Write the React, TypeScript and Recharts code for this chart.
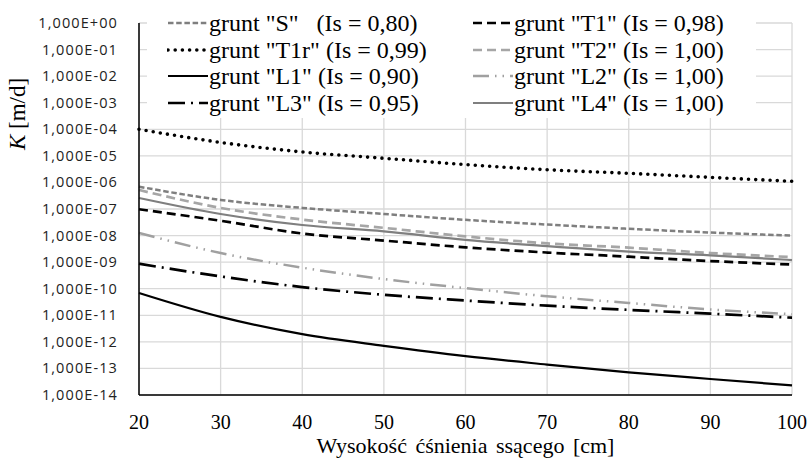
import { LineChart, Line, XAxis, YAxis, CartesianGrid, Legend } from 'recharts';

// wysokość ciśnienia ssącego [cm]
const xValues = [20, 30, 40, 50, 60, 70, 80, 90, 100];
const xTicks = [20, 30, 40, 50, 60, 70, 80, 90, 100];
const yTicks = [1, 1e-1, 1e-2, 1e-3, 1e-4, 1e-5, 1e-6, 1e-7, 1e-8, 1e-9, 1e-10, 1e-11, 1e-12, 1e-13, 1e-14];

// K [m/d]
const gruntS = [6.9e-7, 2.2e-7, 1.1e-7, 6.5e-8, 3.9e-8, 2.6e-8, 1.8e-8, 1.3e-8, 1.0e-8];
const gruntT1 = [9.8e-8, 3.6e-8, 1.2e-8, 6.5e-9, 3.6e-9, 2.3e-9, 1.6e-9, 1.1e-9, 8.1e-10];
const gruntT1r = [1.0e-4, 3.2e-5, 1.4e-5, 8.1e-6, 4.7e-6, 3.0e-6, 2.2e-6, 1.55e-6, 1.1e-6];
const gruntT2 = [5.2e-7, 1.1e-7, 4.0e-8, 1.95e-8, 9.3e-9, 5.1e-9, 3.5e-9, 2.2e-9, 1.55e-9];
const gruntL1 = [6.9e-11, 8.7e-12, 1.95e-12, 7.1e-13, 2.9e-13, 1.4e-13, 7.1e-14, 4.0e-14, 2.3e-14];
const gruntL2 = [1.26e-8, 2.2e-9, 6.2e-10, 2.3e-10, 1.05e-10, 5.2e-11, 2.9e-11, 1.66e-11, 1.1e-11];
const gruntL3 = [8.7e-10, 2.9e-10, 1.15e-10, 5.9e-11, 3.6e-11, 2.3e-11, 1.6e-11, 1.15e-11, 8.1e-12];
const gruntL4 = [2.6e-7, 6.5e-8, 2.5e-8, 1.45e-8, 6.9e-9, 4.0e-9, 2.5e-9, 1.8e-9, 1.2e-9];

const seriesNames = [
  'grunt "S"   (Is = 0,80)',
  'grunt "T1" (Is = 0,98)',
  'grunt "T1r" (Is = 0,99)',
  'grunt "T2" (Is = 1,00)',
  'grunt "L1" (Is = 0,90)',
  'grunt "L2" (Is = 1,00)',
  'grunt "L3" (Is = 0,95)',
  'grunt "L4" (Is = 1,00)',
];

const data = xValues.map((x, i) => ({
  x,
  S: gruntS[i],
  T1: gruntT1[i],
  T1r: gruntT1r[i],
  T2: gruntT2[i],
  L1: gruntL1[i],
  L2: gruntL2[i],
  L3: gruntL3[i],
  L4: gruntL4[i],
}));

const styles = [
  { key: 'S', stroke: '#7f7f7f', width: 2.5, dash: '5.5 2.7', cap: 'butt' },
  { key: 'T1', stroke: '#000', width: 2.7, dash: '9 5', cap: 'butt' },
  { key: 'T1r', stroke: '#000', width: 3.6, dash: '0 7.2', cap: 'round' },
  { key: 'T2', stroke: '#a6a6a6', width: 2.7, dash: '9 5', cap: 'butt' },
  { key: 'L1', stroke: '#000', width: 2.2, dash: undefined, cap: 'butt' },
  { key: 'L2', stroke: '#a0a0a0', width: 2.5, dash: '16 6 1.5 6 1.5 6', cap: 'butt' },
  { key: 'L3', stroke: '#000', width: 2.7, dash: '17 6 2 6', cap: 'butt' },
  { key: 'L4', stroke: '#7f7f7f', width: 2.2, dash: undefined, cap: 'butt' },
];

const serif = '"Liberation Serif", "Times New Roman", serif';
const sans = '"Open Sans", sans-serif';

function fmtK(v: number) {
  const e = Math.round(Math.log10(v));
  return '1,000E' + (e < 0 ? '-' : '+') + String(Math.abs(e)).padStart(2, '0');
}

function LegendBox() {
  return (
    <div
      style={{
        position: 'relative',
        width: 609,
        height: 118,
        background: '#fff',
        fontFamily: serif,
        fontSize: 24,
        color: '#000',
      }}
    >
      {styles.map((s, i) => {
        const col = i % 2;
        const row = Math.floor(i / 2);
        return (
          <div
            key={s.key}
            style={{
              position: 'absolute',
              left: col ? 325 : 20,
              top: 23 + row * 26.67 - 13,
              height: 26,
              display: 'flex',
              alignItems: 'center',
              whiteSpace: 'pre',
            }}
          >
            <svg width={41} height={10} style={{ display: 'block' }}>
              <line
                x1={1}
                y1={5}
                x2={41}
                y2={5}
                stroke={s.stroke}
                strokeWidth={s.width}
                strokeDasharray={s.dash}
                strokeLinecap={s.cap as any}
              />
            </svg>
            <span style={{ marginLeft: 1, lineHeight: '26px' }}>{seriesNames[i]}</span>
          </div>
        );
      })}
    </div>
  );
}

function XTick({ x, y, payload }: any) {
  return (
    <text x={x} y={y + 14} textAnchor="middle" style={{ fontFamily: serif, fontSize: 20, fill: '#000' }}>
      {payload.value}
    </text>
  );
}

function YTick({ x, y, payload }: any) {
  return (
    <text
      x={x}
      y={y + 5}
      textAnchor="end"
      style={{ fontFamily: sans, fontSize: 14.5, fill: '#222', letterSpacing: 1.1 }}
    >
      {fmtK(payload.value)}
    </text>
  );
}

function YTitle() {
  return (
    <text
      x={25}
      y={114}
      transform="rotate(-90 25 114)"
      textAnchor="middle"
      style={{ fontFamily: serif, fontSize: 23, fill: '#000' }}
    >
      <tspan style={{ fontStyle: 'italic' }}>K</tspan> [m/d]
    </text>
  );
}

function XTitle({ viewBox }: any) {
  const cx = viewBox ? viewBox.x + viewBox.width / 2 : 465;
  return (
    <text x={cx} y={453} textAnchor="middle" style={{ fontFamily: serif, fontSize: 22, fill: '#000', wordSpacing: 3 }}>
      Wysokość ćśnienia ssącego [cm]
    </text>
  );
}

export default function App() {
  return (
    <div style={{ position: 'absolute', left: 0, top: 0, width: 811, height: 462, background: '#fff' }}>
      <LineChart width={811} height={462} data={data} margin={{ top: 23, right: 19, bottom: 0, left: 0 }}>
        <CartesianGrid stroke="#d9d9d9" strokeWidth={1.3} />
        <XAxis
          dataKey="x"
          type="number"
          domain={[20, 100]}
          ticks={xTicks}
          interval={0}
          height={67}
          axisLine={{ stroke: '#000', strokeWidth: 1.5 }}
          tickLine={false}
          tickSize={0}
          tickMargin={20}
          tick={<XTick />}
          label={<XTitle />}
        />
        <YAxis
          type="number"
          scale="log"
          domain={[1e-14, 1]}
          allowDataOverflow
          ticks={yTicks}
          interval={0}
          width={139}
          axisLine={{ stroke: '#000', strokeWidth: 1.5 }}
          tickLine={false}
          tickSize={0}
          tickMargin={21}
          tick={<YTick />}
          label={<YTitle />}
        />
        <Legend
          layout="horizontal"
          verticalAlign="middle"
          align="center"
          content={<LegendBox />}
          wrapperStyle={{ left: 147, top: 0, width: 609, height: 118 }}
        />
        {styles.map((s) => (
          <Line
            key={s.key}
            dataKey={s.key}
            type="monotone"
            stroke={s.stroke}
            strokeWidth={s.width}
            strokeDasharray={s.dash}
            strokeLinecap={s.cap as any}
            dot={false}
            activeDot={false}
            isAnimationActive={false}
          />
        ))}
      </LineChart>
    </div>
  );
}
